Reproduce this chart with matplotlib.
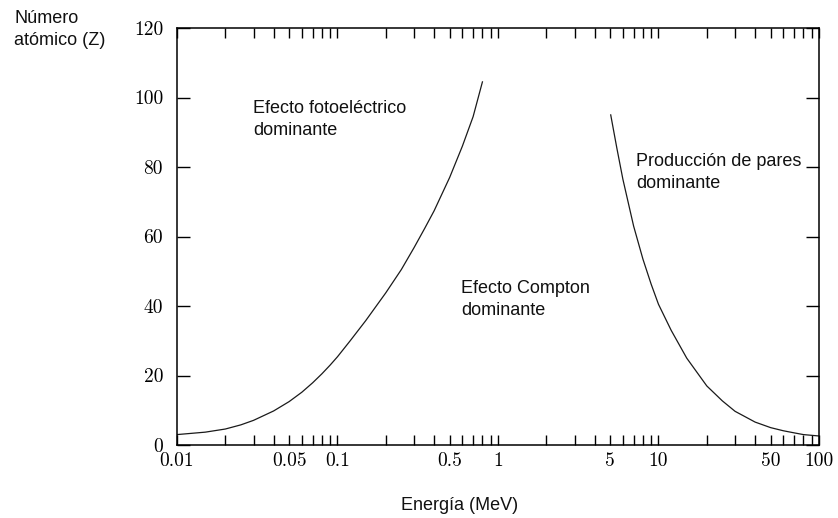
import matplotlib
matplotlib.use("Agg")
import matplotlib.pyplot as plt
from matplotlib.ticker import FixedLocator, NullFormatter

# Photoelectric / Compton boundary (energy in MeV, atomic number Z)
photo_energy = [0.01, 0.015, 0.02, 0.025, 0.03, 0.04, 0.05, 0.06, 0.07, 0.08,
                0.09, 0.1, 0.12, 0.15, 0.2, 0.25, 0.3, 0.35, 0.4, 0.5,
                0.6, 0.7, 0.8]
photo_z = [3.0, 3.7, 4.6, 5.8, 7.1, 9.8, 12.5, 15.2, 17.9, 20.5,
           23.0, 25.4, 30.0, 35.8, 43.8, 50.5, 56.8, 62.4, 67.4, 77.0,
           86.0, 94.5, 104.5]

# Compton / pair production boundary
pair_energy = [5.04, 5.5, 6, 7, 8, 9, 10, 12, 15, 20,
               25, 30, 40, 50, 60, 70, 80, 100]
pair_z = [95.0, 85.5, 76.5, 63.0, 53.5, 46.3, 40.5, 33.0, 25.0, 17.0,
          12.7, 9.7, 6.6, 5.0, 4.1, 3.5, 3.0, 2.6]

x_major = [0.01, 0.05, 0.1, 0.5, 1, 5, 10, 50, 100]
x_major_labels = ["0.01", "0.05", "0.1", "0.5", "1", "5", "10", "50", "100"]
x_minor = [m * d for d in (0.01, 0.1, 1, 10) for m in (2, 3, 4, 6, 7, 8, 9)]
y_ticks = [0, 20, 40, 60, 80, 100, 120]

region_labels = [
    (0.0298, 93.8, "Efecto fotoeléctrico\ndominante"),
    (0.587, 41.9, "Efecto Compton\ndominante"),
    (7.24, 78.3, "Producción de pares\ndominante"),
]

SANS = "Liberation Sans"
TICK_FONT = "cmr10"

fig = plt.figure(figsize=(8.38, 5.18), dpi=100)
ax = fig.add_axes([0.2112, 0.1409, 0.7661, 0.8050])

ax.plot(photo_energy, photo_z, color="#1a1a1a", lw=0.9)
ax.plot(pair_energy, pair_z, color="#1a1a1a", lw=0.9)

ax.set_xscale("log")
ax.set_xlim(0.01, 100)
ax.set_ylim(0, 120)

ax.xaxis.set_major_locator(FixedLocator(x_major))
ax.xaxis.set_minor_locator(FixedLocator(x_minor))
ax.xaxis.set_minor_formatter(NullFormatter())
ax.set_xticklabels(x_major_labels, fontfamily=TICK_FONT, fontsize=14)
ax.set_yticks(y_ticks)
ax.set_yticklabels([str(v) for v in y_ticks], fontfamily=TICK_FONT, fontsize=14)

ax.tick_params(axis="x", which="both", direction="in", top=True, bottom=True,
               length=7, width=1.0, pad=5)
ax.tick_params(axis="y", which="both", direction="in", left=True, right=True,
               length=9.5, width=1.0, pad=10)
for sp in ax.spines.values():
    sp.set_linewidth(1.1)

for x, y, txt in region_labels:
    ax.text(x, y, txt, fontfamily=SANS, fontsize=13, ha="left", va="center",
            linespacing=1.38, color="#111111")

fig.text(14 / 838, 1 - 10 / 518, "Número\natómico (Z)", fontfamily=SANS,
         fontsize=13, ha="left", va="top", linespacing=1.38, color="#111111")
fig.text(460 / 838, 13 / 518, "Energía (MeV)", fontfamily=SANS,
         fontsize=13, ha="center", va="center", color="#111111")

fig.savefig("out.png", dpi=100)
